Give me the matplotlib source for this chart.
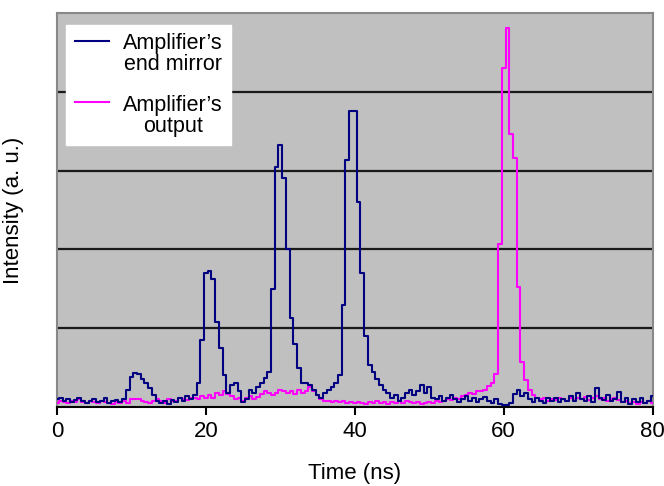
import numpy as np
import matplotlib
matplotlib.use("Agg")
import matplotlib.pyplot as plt
from matplotlib.legend_handler import HandlerLine2D

plt.rcParams['font.family'] = ['Liberation Sans', 'DejaVu Sans']

# sampling: 0 .. 80 ns every 0.5 ns
t_start, t_stop, t_step = 0.0, 80.0, 0.5

# amplifier's end mirror (a. u., one grid division = 1)
end_mirror = [
    0.10, 0.12, 0.08, 0.10, 0.06, 0.09, 0.12, 0.07, 0.05, 0.08,
    0.10, 0.06, 0.08, 0.12, 0.05, 0.07, 0.09, 0.06, 0.10, 0.22,
    0.38, 0.43, 0.42, 0.36, 0.30, 0.24, 0.15, 0.08, 0.05, 0.07,
    0.04, 0.09, 0.06, 0.12, 0.08, 0.14, 0.10, 0.15, 0.30, 0.85,
    1.70, 1.72, 1.62, 1.08, 0.75, 0.40, 0.18, 0.28, 0.30, 0.20,
    0.06, 0.10, 0.22, 0.18, 0.25, 0.30, 0.37, 0.45, 1.50, 3.05,
    3.32, 2.90, 2.00, 1.13, 0.80, 0.49, 0.30, 0.30, 0.28, 0.22,
    0.15, 0.12, 0.18, 0.22, 0.25, 0.30, 0.40, 1.30, 3.13, 3.76,
    3.76, 2.60, 1.70, 0.90, 0.53, 0.44, 0.35, 0.28, 0.22, 0.18,
    0.12, 0.15, 0.08, 0.12, 0.18, 0.22, 0.15, 0.20, 0.28, 0.18,
    0.25, 0.12, 0.10, 0.14, 0.08, 0.12, 0.15, 0.10, 0.06, 0.10,
    0.14, 0.08, 0.12, 0.06, 0.10, 0.13, 0.08, 0.05, 0.10, 0.04,
    0.03, 0.02, 0.05, 0.16, 0.22, 0.14, 0.18, 0.10, 0.06, 0.12,
    0.08, 0.05, 0.11, 0.07, 0.12, 0.06, 0.10, 0.08, 0.14, 0.07,
    0.18, 0.10, 0.08, 0.14, 0.06, 0.24, 0.12, 0.09, 0.15, 0.07,
    0.10, 0.19, 0.06, 0.12, 0.04, 0.10, 0.06, 0.12, 0.05, 0.08,
    0.14,
]

# amplifier's output
output = [
    0.05, 0.08, 0.06, 0.05, 0.08, 0.06, 0.10, 0.06, 0.05, 0.07,
    0.06, 0.05, 0.08, 0.06, 0.05, 0.04, 0.06, 0.05, 0.08, 0.05,
    0.10, 0.10, 0.10, 0.08, 0.06, 0.05, 0.08, 0.10, 0.07, 0.05,
    0.10, 0.07, 0.08, 0.12, 0.10, 0.09, 0.12, 0.11, 0.10, 0.14,
    0.12, 0.15, 0.12, 0.18, 0.15, 0.20, 0.17, 0.14, 0.10, 0.12,
    0.08, 0.12, 0.14, 0.10, 0.13, 0.16, 0.20, 0.18, 0.15, 0.18,
    0.22, 0.20, 0.18, 0.20, 0.17, 0.22, 0.18, 0.20, 0.25, 0.20,
    0.15, 0.10, 0.07, 0.08, 0.06, 0.08, 0.06, 0.07, 0.05, 0.06,
    0.05, 0.06, 0.05, 0.04, 0.06, 0.05, 0.07, 0.05, 0.06, 0.04,
    0.06, 0.05, 0.07, 0.05, 0.08, 0.06, 0.05, 0.06, 0.04, 0.05,
    0.06, 0.05, 0.07, 0.06, 0.08, 0.10, 0.09, 0.12, 0.10, 0.14,
    0.15, 0.18, 0.17, 0.20, 0.20, 0.22, 0.26, 0.30, 0.42, 2.07,
    4.30, 4.81, 3.47, 3.16, 1.52, 0.57, 0.34, 0.21, 0.15, 0.12,
    0.10, 0.12, 0.08, 0.10, 0.09, 0.12, 0.10, 0.08, 0.11, 0.09,
    0.12, 0.10, 0.13, 0.09, 0.11, 0.14, 0.10, 0.12, 0.08, 0.10,
    0.12, 0.09, 0.06, 0.08, 0.05, 0.06, 0.04, 0.06, 0.05, 0.07,
    0.05,
]

x_ticks = [0, 20, 40, 60, 80]
grid_levels = [1, 2, 3, 4]


class FirstLineHandler(HandlerLine2D):
    # put the legend line next to the first line of a two-line label
    def create_artists(self, legend, orig_handle, xdescent, ydescent,
                       width, height, fontsize, trans):
        artists = super().create_artists(legend, orig_handle, xdescent,
                                         ydescent, width, height,
                                         fontsize, trans)
        for a in artists:
            a.set_ydata(np.asarray(a.get_ydata()) + fontsize * 0.65)
        return artists


t = np.arange(t_start, t_stop + t_step / 2, t_step)

fig = plt.figure(figsize=(6.64, 4.86), dpi=100)
ax = fig.add_axes([0.0858, 0.1626, 0.897, 0.8107])
ax.set_facecolor('#c0c0c0')

ax.plot(t, output, color='#ff00ff', lw=1.5, drawstyle='steps-mid',
        label="Amplifier\u2019s\noutput", zorder=3)
ax.plot(t, end_mirror, color='#000080', lw=1.5, drawstyle='steps-mid',
        label="Amplifier\u2019s\nend mirror", zorder=4)

ax.set_xlim(0, 80)
ax.set_ylim(0, 5)
ax.set_xticks(x_ticks)
ax.set_yticks(grid_levels)
ax.set_yticklabels([])
ax.tick_params(axis='y', length=0)
ax.tick_params(axis='x', direction='out', length=6, width=1.5,
               labelsize=16, pad=4)
ax.yaxis.grid(True, color='#1a1a1a', lw=1.6)
ax.set_axisbelow(True)

for side in ['left', 'top', 'right']:
    ax.spines[side].set_color('#888888')
    ax.spines[side].set_linewidth(1.5)
ax.spines['bottom'].set_color('black')
ax.spines['bottom'].set_linewidth(1.5)

ax.set_xlabel("Time (ns)", fontsize=16, labelpad=15)
ax.set_ylabel("Intensity (a. u.)", fontsize=16, labelpad=20)

handles, labels = ax.get_legend_handles_labels()
leg = ax.legend(handles[::-1], labels[::-1], loc='upper left',
                bbox_to_anchor=(0.015, 0.97), fontsize=15.5,
                fancybox=False, frameon=True, framealpha=1,
                edgecolor='white', facecolor='white',
                handlelength=1.6, handletextpad=0.65,
                labelspacing=0.9, borderpad=0.4, borderaxespad=0,
                handler_map={plt.Line2D: FirstLineHandler()})
for txt in leg.get_texts():
    txt.set_multialignment('center')
    txt.set_linespacing(1.0)

fig.savefig("out.png", dpi=100)
